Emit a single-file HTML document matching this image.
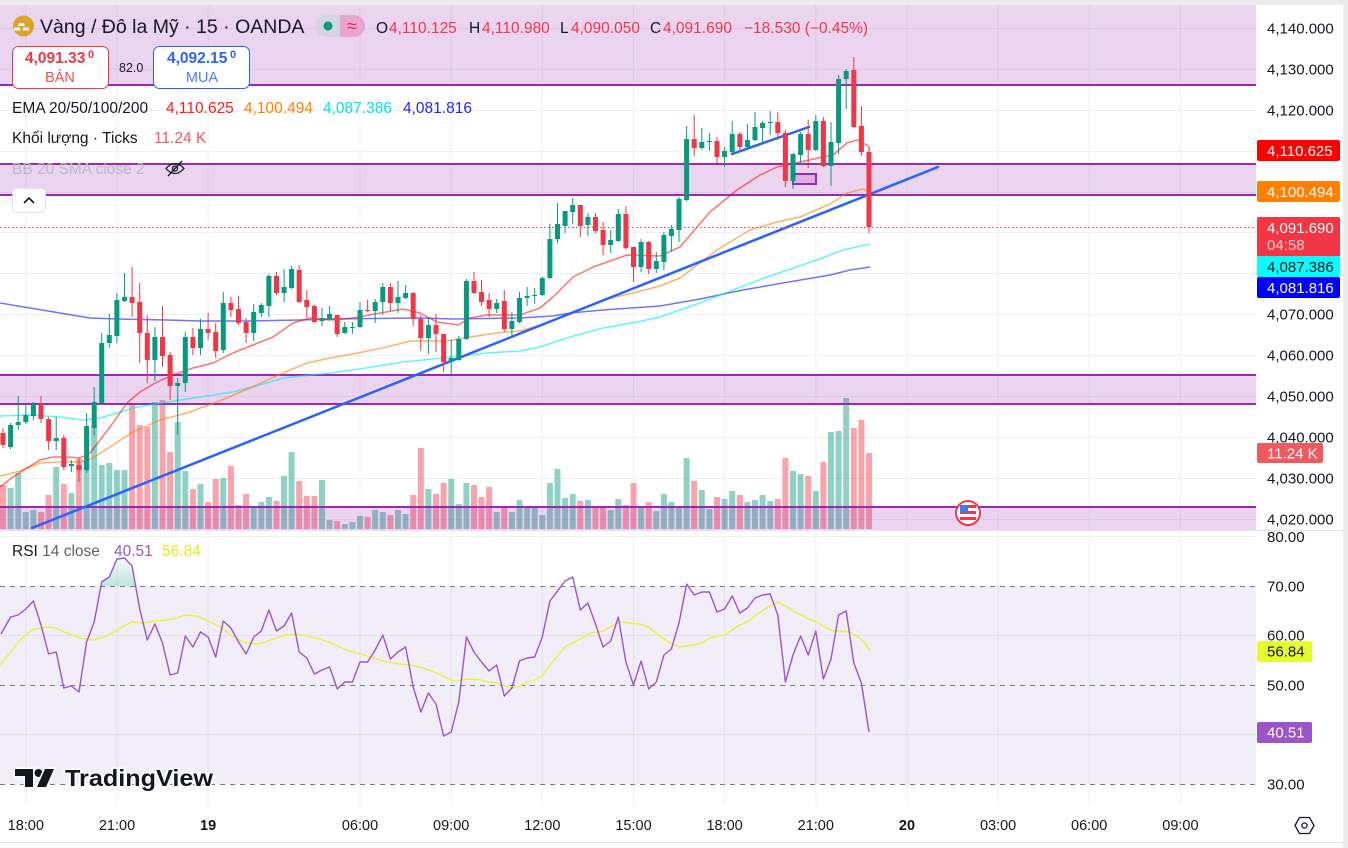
<!DOCTYPE html>
<html><head><meta charset="utf-8"><style>html,body{margin:0;padding:0;background:#fff;width:1348px;height:848px;overflow:hidden}svg{display:block}</style></head><body>
<svg width="1348" height="848" viewBox="0 0 1348 848" xmlns="http://www.w3.org/2000/svg" font-family="'Liberation Sans','DejaVu Sans',Arial,sans-serif">
<rect width="1348" height="848" fill="#fff"/>
<!-- grid -->
<g stroke="#eef0f4" stroke-width="1">
<path d="M0 28.5H1256M0 69.5H1256M0 110.5H1256M0 151.5H1256M0 192.5H1256M0 232.5H1256M0 273.5H1256M0 314.5H1256M0 355.5H1256M0 396.5H1256M0 437.5H1256M0 478.5H1256M0 519.5H1256M0 536.5H1256M0 635.5H1256M0 734.5H1256"/>
<path d="M25.8 5V806M117 5V806M208.1 5V806M360 5V806M451.2 5V806M542.3 5V806M633.5 5V806M724.6 5V806M815.8 5V806M907 5V806M998.1 5V806M1089.2 5V806M1180.4 5V806"/>
</g>
<!-- volume -->
<path fill="rgba(8,153,129,0.45)" d="M7.6 488h6V529h-6zM15.2 473h6V529h-6zM22.8 512h6V529h-6zM30.4 510h6V529h-6zM53.2 467h6V529h-6zM68.4 493h6V529h-6zM83.6 459h6V529h-6zM91.2 425h6V529h-6zM98.7 465h6V529h-6zM106.3 463h6V529h-6zM113.9 470h6V529h-6zM121.5 470h6V529h-6zM151.9 402h6V529h-6zM174.7 422h6V529h-6zM182.3 471h6V529h-6zM197.5 484h6V529h-6zM220.3 478h6V529h-6zM250.7 508h6V529h-6zM258.3 502h6V529h-6zM265.9 497h6V529h-6zM281.1 476h6V529h-6zM288.6 452h6V529h-6zM319 480h6V529h-6zM326.6 520h6V529h-6zM341.8 524h6V529h-6zM349.4 522h6V529h-6zM357 516h6V529h-6zM372.2 510h6V529h-6zM379.8 512h6V529h-6zM395 510h6V529h-6zM402.6 514h6V529h-6zM425.4 489h6V529h-6zM448.2 479h6V529h-6zM455.8 504h6V529h-6zM463.4 483h6V529h-6zM493.7 512h6V529h-6zM508.9 512h6V529h-6zM516.5 500h6V529h-6zM524.1 507h6V529h-6zM531.7 507h6V529h-6zM539.3 515h6V529h-6zM546.9 483h6V529h-6zM554.5 469h6V529h-6zM562.1 498h6V529h-6zM569.7 494h6V529h-6zM584.9 500h6V529h-6zM607.7 510h6V529h-6zM615.3 499h6V529h-6zM638.1 507h6V529h-6zM653.3 511h6V529h-6zM660.9 494h6V529h-6zM668.4 502h6V529h-6zM676 507h6V529h-6zM683.6 458h6V529h-6zM698.8 490h6V529h-6zM706.4 509h6V529h-6zM721.6 499h6V529h-6zM729.2 491h6V529h-6zM744.4 502h6V529h-6zM752 500h6V529h-6zM759.6 495h6V529h-6zM767.2 501h6V529h-6zM790 471h6V529h-6zM797.6 474h6V529h-6zM812.8 491h6V529h-6zM828 432h6V529h-6zM835.6 431h6V529h-6zM843.2 398h6V529h-6z"/>
<path fill="rgba(242,54,69,0.45)" d="M0 485h6V529h-6zM38 512h6V529h-6zM45.6 495h6V529h-6zM60.8 484h6V529h-6zM76 459h6V529h-6zM129.1 404h6V529h-6zM136.7 425h6V529h-6zM144.3 427h6V529h-6zM159.5 400h6V529h-6zM167.1 452h6V529h-6zM189.9 489h6V529h-6zM205.1 502h6V529h-6zM212.7 479h6V529h-6zM227.9 466h6V529h-6zM235.5 505h6V529h-6zM243.1 494h6V529h-6zM273.5 501h6V529h-6zM296.2 481h6V529h-6zM303.8 496h6V529h-6zM311.4 496h6V529h-6zM334.2 521h6V529h-6zM364.6 517h6V529h-6zM387.4 515h6V529h-6zM410.2 495h6V529h-6zM417.8 448h6V529h-6zM433 494h6V529h-6zM440.6 483h6V529h-6zM471 485h6V529h-6zM478.5 497h6V529h-6zM486.1 487h6V529h-6zM501.3 507h6V529h-6zM577.3 501h6V529h-6zM592.5 507h6V529h-6zM600.1 507h6V529h-6zM622.9 505h6V529h-6zM630.5 483h6V529h-6zM645.7 502h6V529h-6zM691.2 481h6V529h-6zM714 497h6V529h-6zM736.8 495h6V529h-6zM774.8 499h6V529h-6zM782.4 458h6V529h-6zM805.2 476h6V529h-6zM820.4 462h6V529h-6zM850.8 428h6V529h-6zM858.4 420h6V529h-6zM866 453h6V529h-6z"/>
<!-- zones -->
<g fill="rgba(156,39,176,0.2)">
<rect x="0" y="5" width="1256" height="80"/>
<rect x="0" y="164" width="1256" height="31"/>
<rect x="0" y="375" width="1256" height="29"/>
<rect x="0" y="507" width="1256" height="23"/>
</g>
<path stroke="#9c27b0" stroke-width="2" fill="none" d="M0 85H1256M0 164H1256M0 195H1256M0 375H1256M0 404H1256M0 507H1256"/>
<!-- EMAs -->
<g fill="none" stroke-width="1.5" stroke-linejoin="round">
<polyline stroke="rgba(0,0,255,0.55)" points="0,303 30,308 60,313 90,318 117,319 167,320 200,321 250,321 300,320 330,319 420,318 453,319 520,318 553,316 570,313 603,310 660,306 700,299 743,290 783,283 830,275 850,270 870,267"/>
<polyline stroke="rgba(0,235,240,0.6)" points="0,416 30,415 60,417 83,420 100,418 117,413 133,408 167,402 200,397 233,392 267,383 283,378 330,373 353,370 403,362 453,357 487,353 520,351 540,347 570,337 603,328 637,322 660,317 700,303 733,290 767,277 817,260 843,250 870,244"/>
<polyline stroke="rgba(255,128,0,0.6)" points="0,476 20,471 40,463 60,462 80,462 93,458 110,447 133,432 160,420 187,413 217,402 250,388 283,373 307,363 330,358 353,354 387,347 410,341 447,341 470,337 497,333 520,331 547,323 570,313 603,300 637,292 660,286 680,278 717,250 750,230 777,222 800,217 830,204 847,193 863,189 870,192"/>
<polyline stroke="rgba(255,0,0,0.55)" points="0,487 13,477 27,468 40,460 53,457 67,457 80,458 90,453 100,440 110,427 127,403 140,392 157,382 173,375 193,368 213,363 233,353 253,345 273,337 293,323 310,318 330,320 353,318 380,313 403,309 420,313 437,322 458,325 470,318 487,315 520,315 540,308 553,297 573,277 593,267 613,260 627,255 660,256 680,247 710,212 737,190 760,175 777,167 800,162 823,157 833,155 847,143 857,140 867,145 870,149"/>
</g>
<!-- trendlines -->
<g stroke="#2962ff" stroke-width="2.5" stroke-linecap="round">
<line x1="32" y1="528" x2="938" y2="167"/>
<line x1="732" y1="154" x2="809" y2="127"/>
</g>
<rect x="793" y="174" width="23" height="10" fill="rgba(156,39,176,0.2)" stroke="#9c27b0" stroke-width="2"/>
<!-- candles -->
<path stroke="#089981" stroke-width="1" fill="none" d="M10.6 423V449M18.2 396V430M25.8 405V424M33.4 402V420M56.2 417V450M71.4 460V472M86.6 413V473M94.2 387V435M101.7 333V405M109.3 314V348M116.9 293V343M124.5 273V302M154.9 327V381M177.7 378V435M185.3 332V392M200.5 319V355M223.3 292V353M253.7 304V341M261.3 303V317M268.9 274V317M284.1 269V302M291.6 266V289M322 308V326M329.6 306V320M344.8 322V334M352.4 322V334M360 302V328M375.2 299V323M382.8 283V315M398 281V313M405.6 285V299M428.4 317V354M451.2 340V374M458.8 336V361M466.4 279V340M496.7 299V313M511.9 312V337M519.5 292V323M527.1 287V306M534.7 288V304M542.3 277V296M549.9 224V279M557.5 203V243M565.1 211V233M572.7 198V224M587.9 213V236M610.7 230V253M618.3 209V242M641.1 239V272M656.3 252V273M663.9 232V270M671.4 225V252M679 197V242M686.6 126V201M701.8 128V150M709.4 133V151M724.6 147V167M732.2 121V153M747.4 124V148M755 112V141M762.6 121V142M770.2 111V135M793 153V189M800.6 132V165M815.8 115V151M831 122V186M838.6 75V154M846.2 69V109"/>
<path fill="#089981" d="M8.1 425h5V447h-5zM15.7 422h5V425h-5zM23.3 415h5V422h-5zM30.9 404h5V416h-5zM53.7 438h5V441h-5zM68.9 464h5V466h-5zM84.1 426h5V470h-5zM91.7 402h5V428h-5zM99.2 343h5V403h-5zM106.8 335h5V343h-5zM114.4 300h5V336h-5zM122 297h5V301h-5zM152.4 337h5V360h-5zM175.2 383h5V386h-5zM182.8 337h5V383h-5zM198 329h5V348h-5zM220.8 303h5V350h-5zM251.2 312h5V333h-5zM258.8 305h5V313h-5zM266.4 276h5V306h-5zM281.6 287h5V293h-5zM289.1 269h5V288h-5zM319.5 318h5V321h-5zM327.1 314h5V319h-5zM342.3 327h5V333h-5zM349.9 327h5V328h-5zM357.5 310h5V327h-5zM372.7 302h5V311h-5zM380.3 287h5V302h-5zM395.5 297h5V303h-5zM403.1 293h5V298h-5zM425.9 325h5V338h-5zM448.7 358h5V362h-5zM456.3 339h5V360h-5zM463.9 281h5V339h-5zM494.2 303h5V309h-5zM509.4 321h5V329h-5zM517 298h5V322h-5zM524.6 296h5V298h-5zM532.2 295h5V296h-5zM539.8 278h5V295h-5zM547.4 239h5V278h-5zM555 224h5V239h-5zM562.6 211h5V226h-5zM570.2 205h5V212h-5zM585.4 217h5V225h-5zM608.2 240h5V245h-5zM615.8 214h5V241h-5zM638.6 242h5V267h-5zM653.8 261h5V269h-5zM661.4 235h5V262h-5zM668.9 229h5V236h-5zM676.5 199h5V230h-5zM684.1 139h5V200h-5zM699.3 142h5V148h-5zM706.9 141h5V142h-5zM722.1 151h5V157h-5zM729.7 134h5V152h-5zM744.9 140h5V147h-5zM752.5 127h5V140h-5zM760.1 123h5V128h-5zM767.7 122h5V123h-5zM790.5 154h5V181h-5zM798.1 134h5V155h-5zM813.3 121h5V150h-5zM828.5 142h5V166h-5zM836.1 79h5V143h-5zM843.7 71h5V79h-5z"/>
<path stroke="#f23645" stroke-width="1" fill="none" d="M3 428V448M41 396V423M48.6 417V450M63.8 435V470M79 458V482M132.1 267V317M139.7 283V363M147.3 315V383M162.5 306V367M170.1 352V400M192.9 328V355M208.1 313V340M215.7 323V358M230.9 297V317M238.5 296V325M246.1 318V343M276.5 272V295M299.2 265V303M306.8 290V318M314.4 305V323M337.2 315V337M367.6 300V312M390.4 283V311M413.2 292V326M420.8 315V351M436 314V352M443.6 334V372M474 272V294M481.5 280V306M489.1 293V317M504.3 290V332M580.3 205V237M595.5 213V233M603.1 222V255M625.9 206V250M633.5 247V282M648.7 241V274M694.2 115V156M717 137V163M739.8 132V152M777.8 112V140M785.4 130V187M808.2 120V168M823.4 117V167M853.8 57V128M861.4 106V156M869 148V233"/>
<path fill="#f23645" d="M0.5 433h5V445h-5zM38.5 404h5V419h-5zM46.1 419h5V441h-5zM61.3 438h5V467h-5zM76.5 465h5V470h-5zM129.6 297h5V303h-5zM137.2 302h5V333h-5zM144.8 333h5V360h-5zM160 337h5V356h-5zM167.6 355h5V386h-5zM190.4 337h5V348h-5zM205.6 329h5V333h-5zM213.2 332h5V351h-5zM228.4 303h5V310h-5zM236 309h5V323h-5zM243.6 322h5V333h-5zM274 276h5V293h-5zM296.7 270h5V302h-5zM304.3 300h5V307h-5zM311.9 306h5V322h-5zM334.7 315h5V334h-5zM365.1 310h5V311h-5zM387.9 287h5V303h-5zM410.7 293h5V319h-5zM418.3 319h5V338h-5zM433.5 325h5V334h-5zM441.1 334h5V362h-5zM471.5 281h5V293h-5zM479 292h5V302h-5zM486.6 300h5V309h-5zM501.8 301h5V329h-5zM577.8 205h5V226h-5zM593 217h5V231h-5zM600.6 230h5V245h-5zM623.4 214h5V248h-5zM631 247h5V267h-5zM646.2 242h5V269h-5zM691.7 139h5V148h-5zM714.5 141h5V157h-5zM737.3 134h5V147h-5zM775.3 122h5V133h-5zM782.9 133h5V181h-5zM805.7 134h5V150h-5zM820.9 121h5V166h-5zM851.3 70h5V127h-5zM858.9 126h5V152h-5zM866.5 152h5V227h-5z"/>
<!-- last price dotted line -->
<line x1="0" y1="227.5" x2="1256" y2="227.5" stroke="#f23645" stroke-width="1" stroke-dasharray="1.5 2.5"/>
<!-- US flag event -->
<g>
<circle cx="968" cy="513" r="12" fill="#fff" stroke="#f23645" stroke-width="2"/>
<rect x="960" y="505" width="16" height="3" fill="#f23645"/>
<rect x="960" y="511" width="16" height="3" fill="#f23645"/>
<rect x="960" y="517" width="16" height="3" fill="#f23645"/>
<rect x="960" y="505" width="8" height="8" fill="#3d7be8"/>
</g>
<!-- header legend -->
<circle cx="23.5" cy="26" r="10.5" fill="#e0a32a"/>
<path fill="#fff" d="M19 23h5l0.8 3h-6.6zM23.5 27.5h5l0.8 3h-6.6zM14.6 27.5h5l0.8 3h-6.6z"/>
<text x="40" y="33" font-size="19.5" fill="#131722">Vàng / Đô la Mỹ · 15 · OANDA</text>
<rect x="315" y="15" width="50" height="22" rx="11" fill="#d3d6e2"/>
<path d="M340 15h14a11 11 0 0 1 0 22h-14z" fill="#e9a6cd"/>
<circle cx="328" cy="26" r="4.5" fill="#089981"/>
<text x="352" y="32" font-size="18" fill="#e91e63" text-anchor="middle">≈</text>
<g font-size="15.5">
<text x="376" y="33" fill="#131722">O</text><text x="389" y="33" fill="#f23645">4,110.125</text>
<text x="469" y="33" fill="#131722">H</text><text x="482" y="33" fill="#f23645">4,110.980</text>
<text x="560" y="33" fill="#131722">L</text><text x="571" y="33" fill="#f23645">4,090.050</text>
<text x="650" y="33" fill="#131722">C</text><text x="663" y="33" fill="#f23645">4,091.690</text>
<text x="744" y="33" fill="#f23645">−18.530 (−0.45%)</text>
</g>
<rect x="12.5" y="46.5" width="96" height="42" rx="6" fill="#fff" stroke="#f23645"/>
<text x="25" y="63" font-size="15.5" font-weight="bold" fill="#f23645">4,091.33</text>
<text x="88" y="58" font-size="11" font-weight="bold" fill="#f23645">0</text>
<text x="60" y="82" font-size="14.5" fill="#f2504a" text-anchor="middle">BÁN</text>
<text x="119" y="72" font-size="12.5" fill="#131722">82.0</text>
<rect x="153.5" y="46.5" width="96" height="42" rx="6" fill="#fff" stroke="#2962ff"/>
<text x="167" y="63" font-size="15.5" font-weight="bold" fill="#2962ff">4,092.15</text>
<text x="230" y="58" font-size="11" font-weight="bold" fill="#2962ff">0</text>
<text x="202" y="82" font-size="14.5" fill="#4a7dff" text-anchor="middle">MUA</text>
<g font-size="15.5">
<text x="12" y="113" fill="#131722">EMA 20/50/100/200</text>
<text x="166" y="113" fill="#ff1a1a">4,110.625</text>
<text x="244" y="113" fill="#ff8000">4,100.494</text>
<text x="323" y="113" fill="#00e0e6">4,087.386</text>
<text x="403" y="113" fill="#2323ff">4,081.816</text>
<text x="12" y="143" fill="#131722">Khối lượng · Ticks</text>
<text x="154" y="143" fill="#f05a5f">11.24 K</text>
<text x="12" y="174" fill="#b8bac2">BB 20 SMA close 2</text>
</g>
<g fill="none" stroke="#131722" stroke-width="1.3">
<path d="M166 168.5q9-10 18 0q-9 10-18 0z"/>
<circle cx="175" cy="168.5" r="2.5"/>
<line x1="168" y1="176" x2="182" y2="161"/>
</g>
<rect x="12.5" y="188.5" width="33" height="24" rx="4" fill="#fff" stroke="#e0e3eb"/>
<polyline points="24,203 29,198 34,203" fill="none" stroke="#131722" stroke-width="1.6"/>
<!-- pane separator -->
<line x1="0" y1="530.5" x2="1348" y2="530.5" stroke="#e0e3eb"/>
<!-- RSI pane -->
<rect x="0" y="586" width="1256" height="198" fill="rgba(126,87,194,0.1)"/>
<g stroke="#787b86" stroke-width="1" stroke-dasharray="5 5">
<line x1="0" y1="586.5" x2="1256" y2="586.5"/>
<line x1="0" y1="685.5" x2="1256" y2="685.5"/>
<line x1="0" y1="784.5" x2="1256" y2="784.5"/>
</g>
<defs><linearGradient id="ob" x1="0" y1="0" x2="0" y2="1"><stop offset="0" stop-color="rgba(8,153,129,0.05)"/><stop offset="1" stop-color="rgba(8,153,129,0.25)"/></linearGradient></defs>
<polygon points="101,586 101.7,582 109.3,577 116.9,559 124.5,558 132.1,566 135.6,586" fill="url(#ob)"/>
<polyline fill="none" stroke="#eaf23a" stroke-width="1.4" points="0,665 10,653 18.3,642 31.7,630 46.7,627 55,628 66.7,633 80,638 93.3,640 106.7,636 120,628 131.7,622 143.3,623 155,621 166.7,620 176.7,618 185,615 196.7,616 206.7,620 220,627 233.3,637 246.7,643 260,644 273.3,639 286.7,635 296.7,634 306.7,636 320,639 333.3,644 346.7,650 360,654 373.3,658 386.7,662 400,664 410,665 423.3,668 436.7,673 453.3,681 470,679 480,680 490,682 496.7,683 511.7,688 520,686 526.7,682 535,680 541.7,676 550,665 565,647 580,639 590,633 603.3,631 610,627 620,622 630,623 640,624 648.3,627 660,636 670,643 680,647 693.3,645 701.7,643 711.7,637 725,635 733.3,629 740,625 748.3,621 755,616 763.3,610 770,606 778.3,602 786.7,607 795,612 801.7,615 808.3,619 816.7,622 825,627 833.3,631 843.3,631 850,632 856.7,636 863.3,641 870,651"/>
<polyline fill="none" stroke="#9c55c8" stroke-width="1.4" stroke-linejoin="round" points="1,634 10.6,617 18.2,615 25.8,609 33.4,601 41,625 48.6,654 56.2,652 63.8,688 71.4,686 79,692 86.6,642 94.2,622 101.7,582 109.3,577 116.9,559 124.5,558 132.1,566 139.7,609 147.3,640 154.9,624 162.5,643 170.1,675 177.7,673 185.3,636 192.9,647 200.5,632 208.1,637 215.7,657 223.3,621 230.9,628 238.5,642 246.1,654 253.7,637 261.3,631 268.9,610 276.5,631 284.1,626 291.6,613 299.2,652 306.8,658 314.4,674 322,670 329.6,667 337.2,689 344.8,682 352.4,682 360,662 367.6,662 375.2,650 382.8,635 390.4,659 398,652 405.6,647 413.2,687 420.8,712 428.4,693 436,704 443.6,736 451.2,732 458.8,702 466.4,637 474,652 481.5,662 489.1,671 496.7,665 504.3,696 511.9,688 519.5,661 527.1,658 534.7,657 542.3,637 549.9,601 557.5,591 565.1,581 572.7,577 580.3,610 587.9,603 595.5,624 603.1,647 610.7,641 618.3,617 625.9,662 633.5,685 641.1,661 648.7,689 656.3,682 663.9,655 671.4,649 679,623 686.6,584 694.2,595 701.8,592 709.4,592 717,612 724.6,609 732.2,596 739.8,613 747.4,608 755,598 762.6,595 770.2,594 777.8,615 785.4,682 793,655 800.6,636 808.2,655 815.8,631 823.4,679 831,659 838.6,615 846.2,611 853.8,663 861.4,683 869,732"/>
<g font-size="15.5">
<text x="12" y="556" fill="#131722">RSI <tspan fill="#5d606b">14 close</tspan></text>
<text x="114" y="556" fill="#9c55c8">40.51</text>
<text x="162" y="556" fill="#e2ec1c">56.84</text>
</g>
<!-- TradingView logo -->
<g fill="#131722" stroke="#fff" stroke-width="3" paint-order="stroke">
<path d="M15 769H33V787H25V776H15Z"/>
<circle cx="38.5" cy="773" r="4"/>
<path d="M45 769H54L46 787H37Z"/>
<text x="65" y="786" font-size="23" font-weight="bold" textLength="148" lengthAdjust="spacingAndGlyphs">TradingView</text>
</g>
<!-- right price axis -->
<g font-size="15" fill="#131722">
<text x="1267" y="33.5">4,140.000</text>
<text x="1267" y="74.5">4,130.000</text>
<text x="1267" y="115.5">4,120.000</text>
<text x="1267" y="319.5">4,070.000</text>
<text x="1267" y="360.5">4,060.000</text>
<text x="1267" y="401.5">4,050.000</text>
<text x="1267" y="442.5">4,040.000</text>
<text x="1267" y="483.5">4,030.000</text>
<text x="1267" y="524.5">4,020.000</text>
<text x="1267" y="542">80.00</text>
<text x="1267" y="591.5">70.00</text>
<text x="1267" y="640.5">60.00</text>
<text x="1267" y="690.5">50.00</text>
<text x="1267" y="789.5">30.00</text>
</g>
<g font-size="15">
<rect x="1257" y="140" width="83" height="21" rx="2" fill="#ff0000"/>
<text x="1267" y="156" fill="#fff">4,110.625</text>
<rect x="1257" y="181" width="83" height="21" rx="2" fill="#ff7f00"/>
<text x="1267" y="197" fill="#fff">4,100.494</text>
<rect x="1257" y="217" width="83" height="40" rx="2" fill="#f23645"/>
<text x="1267" y="233" fill="#fff">4,091.690</text>
<text x="1267" y="250" fill="#fff" fill-opacity="0.75">04:58</text>
<rect x="1257" y="256" width="83" height="21" rx="2" fill="#00ffff"/>
<text x="1267" y="272" fill="#131722">4,087.386</text>
<rect x="1257" y="277" width="83" height="21" rx="2" fill="#0000ff"/>
<text x="1267" y="293" fill="#fff">4,081.816</text>
<rect x="1257" y="443" width="66" height="20" rx="2" fill="#f05a5f"/>
<text x="1267" y="458.5" fill="#fff">11.24 K</text>
<rect x="1257" y="641" width="55" height="21" rx="2" fill="#e5fb2e"/>
<text x="1267" y="656.5" fill="#131722">56.84</text>
<rect x="1257" y="722" width="55" height="21" rx="2" fill="#9c55c8"/>
<text x="1267" y="737.5" fill="#fff">40.51</text>
</g>
<!-- time axis -->
<g font-size="14.5" fill="#131722" text-anchor="middle">
<text x="25.8" y="830">18:00</text>
<text x="117" y="830">21:00</text>
<text x="208.1" y="830" font-weight="bold">19</text>
<text x="360" y="830">06:00</text>
<text x="451.2" y="830">09:00</text>
<text x="542.3" y="830">12:00</text>
<text x="633.5" y="830">15:00</text>
<text x="724.6" y="830">18:00</text>
<text x="815.8" y="830">21:00</text>
<text x="907" y="830" font-weight="bold">20</text>
<text x="998.1" y="830">03:00</text>
<text x="1089.2" y="830">06:00</text>
<text x="1180.4" y="830">09:00</text>
</g>
<g fill="none" stroke="#131722" stroke-width="1.3">
<path d="M1295 825.5l4.5-8h10l4.5 8-4.5 8h-10z"/>
<circle cx="1304.5" cy="825.5" r="2.6"/>
</g>
<line x1="0" y1="842.5" x2="1345" y2="842.5" stroke="#e0e3eb"/>
<!-- frame -->
<rect x="0" y="0" width="1348" height="5" fill="#ebebeb"/>
<rect x="1343" y="0" width="5" height="848" fill="#ebebeb"/>
</svg>
</body></html>
